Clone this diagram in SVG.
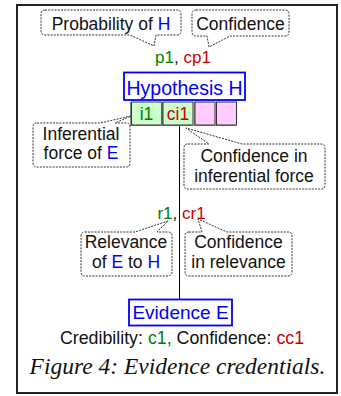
<svg xmlns="http://www.w3.org/2000/svg" width="341" height="396" viewBox="0 0 341 396">
<style>
  .t{font-family:"Liberation Sans",Arial,sans-serif;fill:#111;text-anchor:middle}
  .c{font-size:17.5px}
  .g{fill:#008000}
  .r{fill:#cc0000}
  .b{fill:#0000ff}
  .call{fill:#fff;stroke:#333;stroke-width:1;stroke-dasharray:2 1.2}
  .node{fill:#fff;stroke:#0000ff;stroke-width:1.8}
  .cellg{fill:#ccffcc;stroke:#333;stroke-width:1}
  .cellp{fill:#ffccff;stroke:#333;stroke-width:1}
  .shadow{fill:#888}
</style>
<rect x="17" y="5" width="320" height="388" fill="#fff" stroke="#222" stroke-width="2"/>
<g id="connectors">
  <line x1="179.5" y1="125" x2="179.5" y2="299.5" stroke="#000" stroke-width="1"/>
</g>
<g id="callout-probability">
  <path class="call" d="M45,10 H177 Q181,10 181,14 V31 Q181,35 177,35 H156 L154,46 L130,35 H45 Q41,35 41,31 V14 Q41,10 45,10 Z"/>
  <text class="t c" x="111" y="30">Probability of <tspan class="b">H</tspan></text>
</g>
<g id="callout-confidence">
  <path class="call" d="M196,10 H285 Q289,10 289,14 V32 Q289,36 285,36 H230 L209,47 L207,36 H196 Q192,36 192,32 V14 Q192,10 196,10 Z"/>
  <text class="t c" x="240.5" y="30">Confidence</text>
</g>
<g id="label-p1">
  <text class="t" font-size="17" x="183" y="63"><tspan class="g">p1</tspan>, <tspan class="r">cp1</tspan></text>
</g>
<g id="hypothesis">
  <rect class="node" x="124" y="72.5" width="121" height="27.5"/>
  <text class="t b" font-size="19.5" x="184.5" y="95">Hypothesis H</text>
</g>
<g id="cells">
  <rect class="shadow" x="130" y="102" width="31" height="24"/>
  <rect class="cellg" x="131.5" y="102" width="30" height="23"/>
  <text class="t g" font-size="17.5" x="146.5" y="120">i1</text>
  <rect class="shadow" x="161.5" y="102" width="31" height="24"/>
  <rect class="cellg" x="163" y="102" width="30" height="23"/>
  <text class="t r" font-size="17.5" x="178" y="120">ci1</text>
  <rect class="shadow" x="193.5" y="102" width="21" height="24"/>
  <rect class="cellp" x="195" y="102" width="20" height="23"/>
  <rect class="shadow" x="215" y="102" width="21" height="24"/>
  <rect class="cellp" x="216.5" y="102" width="20" height="23"/>
</g>
<g id="callout-inferential">
  <path class="call" d="M37,123 H100 L131,116 L115,123 H126 Q130,123 130,127 V163 Q130,167 126,167 H37 Q33,167 33,163 V127 Q33,123 37,123 Z"/>
  <text class="t c" x="81" y="140">Inferential</text>
  <text class="t c" x="81" y="159">force of <tspan class="b">E</tspan></text>
</g>
<g id="callout-conf-inferential">
  <path class="call" d="M188,144 H209 L186,128 L242,144 H321 Q325,144 325,148 V185 Q325,189 321,189 H188 Q184,189 184,185 V148 Q184,144 188,144 Z"/>
  <text class="t c" x="254" y="161.5">Confidence in</text>
  <text class="t c" x="254" y="181.5">inferential force</text>
</g>
<g id="label-r1">
  <text class="t" font-size="17" x="181.5" y="218.5"><tspan class="g">r1</tspan>, <tspan class="r">cr1</tspan></text>
</g>
<g id="callout-relevance">
  <path class="call" d="M85,232 H135 L168,221 L157,232 H168 Q172,232 172,236 V272 Q172,276 168,276 H85 Q81,276 81,272 V236 Q81,232 85,232 Z"/>
  <text class="t c" x="126" y="248">Relevance</text>
  <text class="t c" x="126" y="268">of <tspan class="b">E</tspan> to <tspan class="b">H</tspan></text>
</g>
<g id="callout-conf-relevance">
  <path class="call" d="M189,232 H202 L198,219 L227,232 H288 Q292,232 292,236 V272 Q292,276 288,276 H189 Q185,276 185,272 V236 Q185,232 189,232 Z"/>
  <text class="t c" x="238.5" y="248">Confidence</text>
  <text class="t c" x="238.5" y="268">in relevance</text>
</g>
<g id="evidence">
  <rect class="node" x="129" y="299.5" width="103" height="26"/>
  <text class="t b" font-size="19" x="180.5" y="318.5">Evidence E</text>
</g>
<g id="credibility">
  <text class="t" font-size="17.8" x="182" y="344">Credibility: <tspan class="g">c1,</tspan> Confidence: <tspan class="r">cc1</tspan></text>
</g>
<text x="177.5" y="374" font-family="Liberation Serif,'Times New Roman',serif" font-style="italic" font-size="23.5" text-anchor="middle" fill="#111">Figure 4: Evidence credentials.</text>
</svg>
